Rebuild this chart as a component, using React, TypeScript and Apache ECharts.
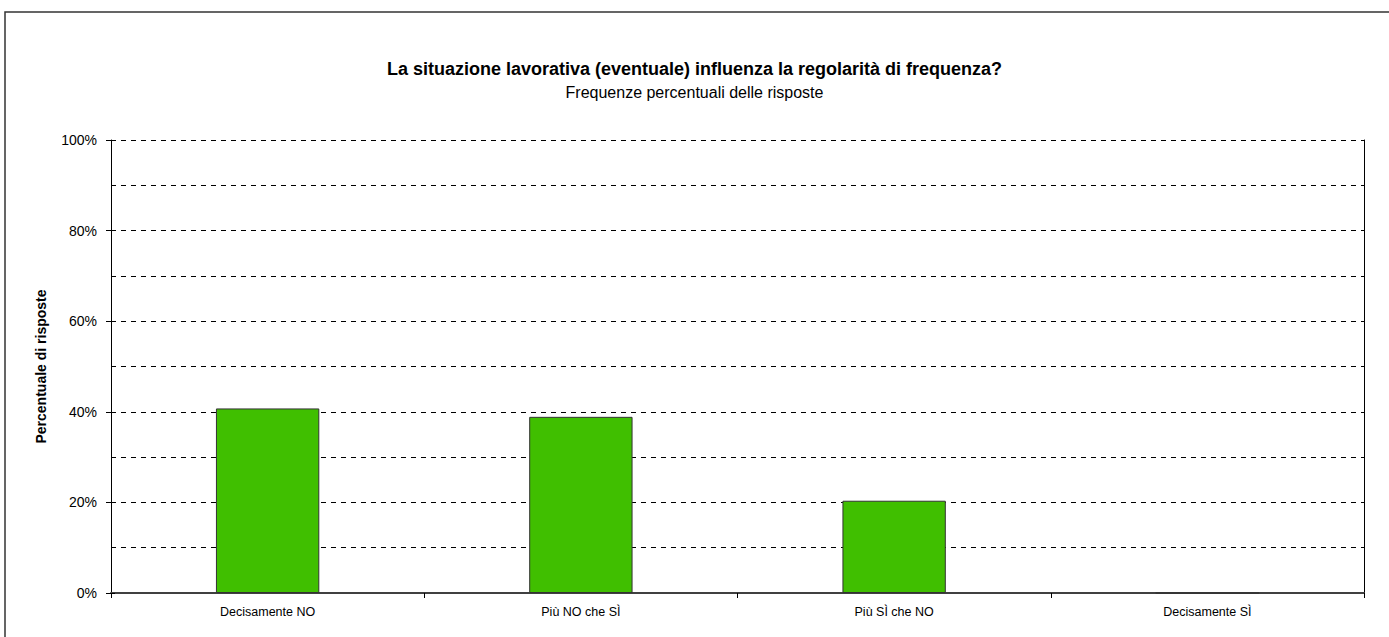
import React, { useEffect, useRef } from "react";
import * as echarts from "echarts";

const categories = ["Decisamente NO", "Più NO che SÌ", "Più SÌ che NO", "Decisamente SÌ"];
const values = [40.74, 38.89, 20.37, 0];
const titleText = "La situazione lavorativa (eventuale) influenza la regolarità di frequenza?";
const subtitleText = "Frequenze percentuali delle risposte";
const yAxisName = "Percentuale di risposte";

export default function App() {
  const ref = useRef<HTMLDivElement>(null);
  useEffect(() => {
    if (!ref.current) return;
    const chart = echarts.init(ref.current, null, { renderer: "svg" });
    const font = "'Liberation Sans', Arial, Helvetica, sans-serif";
    chart.setOption({
      animation: false,
      backgroundColor: "#ffffff",
      textStyle: { fontFamily: font },
      title: {
        text: titleText,
        subtext: subtitleText,
        left: "center",
        top: 55,
        itemGap: 6,
        textStyle: { fontFamily: font, fontSize: 18, fontWeight: "bold", color: "#000" },
        subtextStyle: { fontFamily: font, fontSize: 16, color: "#000" },
      },
      graphic: [
        {
          type: "rect",
          shape: { x: 5, y: 12, width: 1420, height: 700 },
          style: { fill: "none", stroke: "#333", lineWidth: 1.5 },
          silent: true,
        },
      ],
      grid: { left: 111, right: 25, top: 140, bottom: 44, containLabel: false },
      xAxis: {
        type: "category",
        data: categories,
        axisLine: { show: true, lineStyle: { color: "#404040", width: 2 } },
        axisTick: { show: true, alignWithLabel: false, length: 5, lineStyle: { color: "#000", width: 1 } },
        axisLabel: { color: "#000", fontSize: 12.5, margin: 12, fontFamily: font, interval: 0 },
        splitLine: { show: false },
      },
      yAxis: [
        {
          type: "value",
          min: 0,
          max: 100,
          interval: 20,
          position: "left",
          name: yAxisName,
          nameLocation: "middle",
          nameGap: 63,
          nameRotate: 90,
          nameTextStyle: { fontFamily: font, fontSize: 14, fontWeight: "bold", color: "#000" },
          axisLine: { show: true, lineStyle: { color: "#000", width: 1 } },
          axisTick: { show: true, length: 5, lineStyle: { color: "#000" } },
          axisLabel: { color: "#000", fontSize: 14, margin: 14, formatter: "{value}%", fontFamily: font },
          splitLine: { show: false },
        },
        {
          type: "value",
          min: 0,
          max: 100,
          interval: 10,
          position: "left",
          axisLine: { show: false },
          axisTick: { show: true, inside: true, length: 4, lineStyle: { color: "#000" } },
          axisLabel: { show: false },
          splitLine: { show: true, lineStyle: { color: "#000", type: [5, 5], width: 1 } },
        },
        {
          type: "value",
          min: 0,
          max: 100,
          interval: 10,
          position: "right",
          axisLine: { show: true, lineStyle: { color: "#000", width: 1 } },
          axisTick: { show: false },
          axisLabel: { show: false },
          splitLine: { show: false },
        },
      ],
      series: [
        {
          type: "bar",
          data: values,
          yAxisIndex: 0,
          barWidth: "33%",
          itemStyle: { color: "#40BF00", borderColor: "#333", borderWidth: 1 },
        },
      ],
    });
    return () => chart.dispose();
  }, []);
  return (
    <div
      ref={ref}
      style={{ position: "absolute", left: 0, top: 0, width: 1389, height: 637 }}
    />
  );
}
